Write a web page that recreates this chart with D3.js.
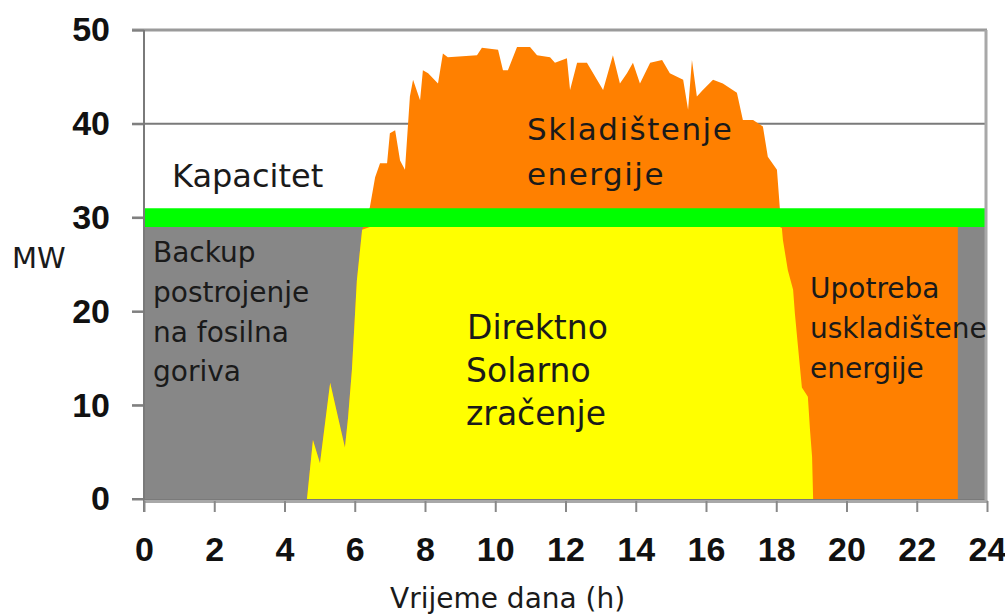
<!DOCTYPE html>
<html>
<head>
<meta charset="utf-8">
<script src="https://cdn.jsdelivr.net/npm/d3@7"></script>
<style>
  body { margin: 0; background: #fff; }
</style>
</head>
<body>
<script>

// solar output over the day (hours, MW)
var solarHours = [4.64, 4.81, 5.01, 5.30, 5.72, 5.81, 5.92, 6.06, 6.21, 6.43,
  6.58, 6.72, 6.92, 7.0, 7.15, 7.29, 7.43, 7.57, 7.66, 7.86,
  7.94, 8.09, 8.37, 8.51, 8.65, 9.48, 9.62, 10.08, 10.22, 10.36,
  10.62, 10.99, 11.19, 11.56, 11.7, 12.04, 12.13, 12.33, 12.61, 13.07,
  13.35, 13.55, 13.75, 13.92, 14.12, 14.41, 14.75, 14.97, 15.35, 15.49,
  15.6, 15.74, 15.91, 16.2, 16.48, 16.88, 17.05, 17.34, 17.62, 17.76,
  18.02, 18.1, 18.16, 18.19, 18.33, 18.48, 18.53, 18.62, 18.73, 18.9,
  18.96, 19.02, 19.05];
var solarMW = [0, 6.3, 3.8, 12.4, 5.5, 8.7, 13.8, 23.3, 28.7, 31.1,
  34.3, 35.8, 35.8, 39.0, 39.3, 36.1, 35.1, 42.9, 44.7, 42.5,
  45.7, 45.4, 44.3, 47.5, 47.1, 47.3, 48.1, 47.9, 45.7, 45.7,
  48.2, 48.2, 47.3, 47.1, 46.5, 47.0, 43.6, 46.5, 46.5, 43.6,
  47.3, 44.3, 45.4, 46.5, 44.3, 46.5, 46.8, 45.4, 44.7, 41.5,
  46.8, 42.9, 43.6, 44.7, 44.3, 43.3, 40.4, 40.4, 39.7, 36.5,
  35.1, 31.1, 28.9, 27.6, 24.4, 22.3, 19.8, 16.2, 11.9, 10.9,
  7.4, 4.5, 0];

// backup plant fills the whole day up to the load
var backupHours = [0, 24];
var backupMW = [29, 29];

// stored energy used in the evening
var storedUseHours = [18.0, 23.17];
var storedUseMW = [29, 29];

// capacity band
var capacityHours = [0, 24];
var capacityLow = 29;
var capacityHigh = 31;

var xTicks = [0, 2, 4, 6, 8, 10, 12, 14, 16, 18, 20, 22, 24];
var yTicks = [0, 10, 20, 30, 40, 50];

var svg = d3.select("body")
  .append("svg")
  .attr("width", 1005)
  .attr("height", 614);

var x = d3.scaleLinear().domain([0, 24]).range([144, 987]);
var y = d3.scaleLinear().domain([0, 50]).range([499, 30]);

function pairs(hs, vs) {
  return hs.map(function (h, i) { return [h, vs[i]]; });
}

// grid lines (only the top ones stay visible)
svg.selectAll("line.grid")
  .data(yTicks)
  .enter()
  .append("line")
  .attr("class", "grid")
  .attr("x1", 132)
  .attr("x2", x(24))
  .attr("y1", function (d) { return y(d); })
  .attr("y2", function (d) { return y(d); })
  .style("stroke", function (d) { return d == 50 ? "#9a9a9a" : "#7a7a7a"; })
  .style("stroke-width", function (d) { return d == 50 ? 3 : 2; });

var area = d3.area()
  .x(function (d) { return x(d[0]); })
  .y0(y(0))
  .y1(function (d) { return y(d[1]); });

// grey backup
svg.append("path")
  .attr("d", area(pairs(backupHours, backupMW)))
  .style("fill", "#878787");

// orange - use of stored energy
svg.append("path")
  .attr("d", area(pairs(storedUseHours, storedUseMW)))
  .style("fill", "#ff8000");

// orange - storage (whole solar curve, yellow goes on top)
svg.append("path")
  .attr("d", area(pairs(solarHours, solarMW)))
  .style("fill", "#ff8000");

// yellow - direct solar, cut at the load
var directArea = d3.area()
  .x(function (d) { return x(d[0]); })
  .y0(y(0))
  .y1(function (d) { return y(Math.min(d[1], capacityLow)); });

svg.append("path")
  .attr("d", directArea(pairs(solarHours, solarMW)))
  .style("fill", "#ffff00");

// green capacity band
var band = d3.area()
  .x(function (d) { return x(d); })
  .y0(y(capacityLow))
  .y1(y(capacityHigh));

svg.append("path")
  .attr("d", band(capacityHours))
  .style("fill", "#00ff00");

// left axis
var yAxis = svg.append("g")
  .attr("transform", "translate(" + x(0) + ",0)")
  .call(d3.axisLeft(y).tickValues(yTicks).tickSize(12).tickSizeOuter(0).tickPadding(22));

yAxis.select(".domain").remove();
yAxis.selectAll(".tick line").style("stroke", "#808080").style("stroke-width", 2);
yAxis.selectAll(".tick text")
  .style("font-family", "'Liberation Sans', Arial, sans-serif")
  .style("font-weight", "bold")
  .style("font-size", "34px")
  .style("fill", "#111");

svg.append("line")
  .attr("x1", x(0))
  .attr("x2", x(0))
  .attr("y1", y(50))
  .attr("y2", 512)
  .style("stroke", "#7a7a7a")
  .style("stroke-width", 2);

// right border
svg.append("line")
  .attr("x1", x(24) - 1)
  .attr("x2", x(24) - 1)
  .attr("y1", y(50))
  .attr("y2", 503)
  .style("stroke", "#a8a8a8")
  .style("stroke-width", 3);

// bottom axis
var xAxis = svg.append("g")
  .attr("transform", "translate(0," + (y(0) + 2) + ")")
  .call(d3.axisBottom(x).tickValues(xTicks).tickSize(11).tickSizeOuter(0).tickPadding(25));

xAxis.select(".domain").style("stroke", "#a8a8a8").style("stroke-width", 3);
xAxis.selectAll(".tick line").style("stroke", "#888").style("stroke-width", 2);
xAxis.selectAll(".tick text")
  .style("font-family", "'Liberation Sans', Arial, sans-serif")
  .style("font-weight", "bold")
  .style("font-size", "34px")
  .style("fill", "#111");

// labels
var labels = [
  { t: "Kapacitet", x: 172, y: 187, s: 32 },
  { t: "Skladištenje", x: 527, y: 140, s: 31, ls: 1.5 },
  { t: "energije", x: 527, y: 185, s: 31, ls: 1.5 },
  { t: "Backup", x: 153, y: 262, s: 28 },
  { t: "postrojenje", x: 153, y: 302, s: 28 },
  { t: "na fosilna", x: 153, y: 342, s: 28 },
  { t: "goriva", x: 153, y: 381, s: 28 },
  { t: "Direktno", x: 467, y: 339, s: 33 },
  { t: "Solarno", x: 466, y: 382, s: 33 },
  { t: "zračenje", x: 466, y: 425, s: 33 },
  { t: "Upotreba", x: 810, y: 298, s: 28 },
  { t: "uskladištene", x: 810, y: 338, s: 28 },
  { t: "energije", x: 810, y: 378, s: 28 },
  { t: "MW", x: 12, y: 268, s: 29 },
  { t: "Vrijeme dana (h)", x: 390, y: 608, s: 28 }
];

svg.selectAll("text.label")
  .data(labels)
  .enter()
  .append("text")
  .attr("class", "label")
  .attr("x", function (d) { return d.x; })
  .attr("y", function (d) { return d.y; })
  .style("font-family", "'DejaVu Sans', sans-serif")
  .style("font-size", function (d) { return d.s + "px"; })
  .style("letter-spacing", function (d) { return (d.ls || 0) + "px"; })
  .style("fill", "#1a1a1a")
  .text(function (d) { return d.t; });

</script>
</body>
</html>
